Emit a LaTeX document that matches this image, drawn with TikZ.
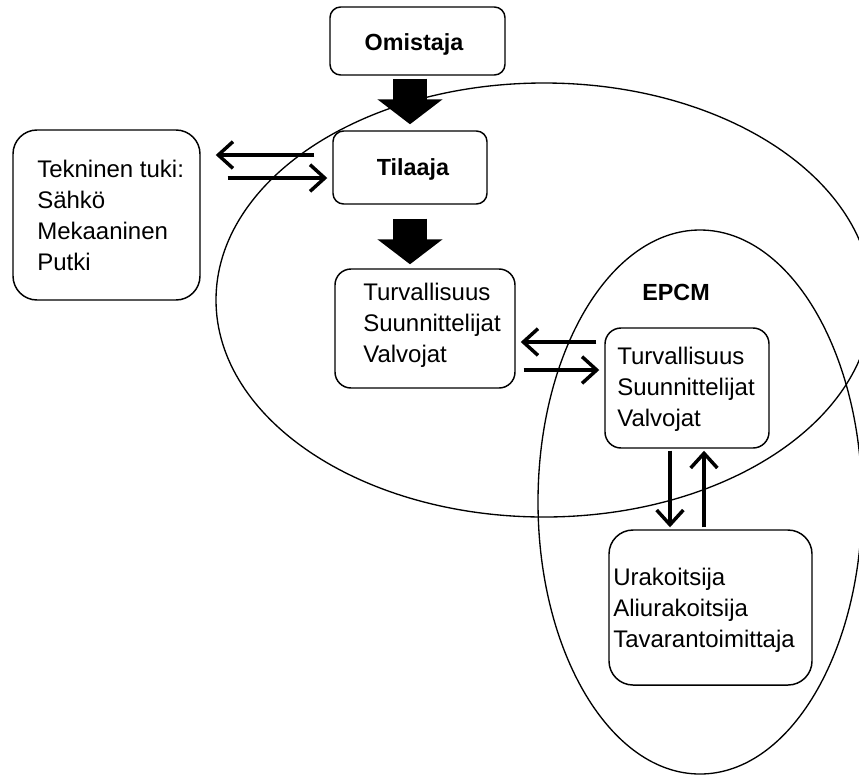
\documentclass[tikz,border=0pt]{standalone}
\usepackage{fontspec}
\setmainfont{Liberation Sans}
\usetikzlibrary{arrows.meta,fit,calc}
\begin{document}
\begin{tikzpicture}[x=0.75pt,y=-0.75pt,
  box/.style={draw, line width=1.1pt, rounded corners=#1, inner sep=0pt, fill=white},
  box/.default=8pt,
  ring/.style={draw, line width=1pt},
  txt/.style={font=\fontsize{18pt}{23.25pt}\selectfont, align=left, inner sep=0pt, anchor=north west},
  head/.style={font=\fontsize{17.5pt}{21pt}\selectfont\bfseries, inner sep=0pt, anchor=base},
  bigarrow/.style={line width=25.5pt, -{Triangle[length=18.75pt, width=48pt]}},
  thinarrow/.style={line width=2.6pt, -{Straight Barb[length=11pt, width=20pt]}}]
\useasboundingbox (0,0) rectangle (859,776);

% the two overlapping domains
\draw[ring] (544,300) ellipse [x radius=246pt, y radius=162.75pt];
\draw[ring] (700,502) ellipse [x radius=121.5pt, y radius=204pt];

% boxes
\node[box=8pt,  fit={(330,7)(505,75)}]    (omi) {};
\node[box=8pt,  fit={(333,131)(487,204)}] (tila) {};
\node[box=18pt, fit={(13,130)(200,300)}]  (tek) {};
\node[box=12pt, fit={(335,269)(515,388)}] (b1) {};
\node[box=12pt, fit={(605,328)(769,448)}] (b2) {};
\node[box=18pt, fit={(609,530)(812,685)}] (ura) {};

% texts
\node[head] (omiT)  at (414,50)  {Omistaja};
\node[head] (tilaT) at (413,175) {Tilaaja};
\node[head] (epcm)  at (676,300) {EPCM};
\node[txt] (tekT) at (37,160)  {Tekninen tuki:\\Sähkö\\Mekaaninen\\Putki};
\node[txt] (b1T)  at (363,283) {Turvallisuus\\Suunnittelijat\\Valvojat};
\node[txt] (b2T)  at (617,347) {Turvallisuus\\Suunnittelijat\\Valvojat};
\node[txt] (uraT) at (613,568) {Urakoitsija\\Aliurakoitsija\\Tavarantoimittaja};

% main chain
\draw[bigarrow, shorten <=2.25pt, shorten >=4.5pt] (omi.south -| tila.north) -- (tila.north);
\draw[bigarrow, shorten <=10.5pt, shorten >=3pt] (tila.south) -- (tila.south |- b1.north);

% technical support exchange
\draw[thinarrow] ($(tila.west)+(-18,-12.5)$) -- ($(tek.east |- tila.west)+(15,-12.5)$);
\draw[thinarrow] ($(tek.east |- tila.west)+(27,10.5)$) -- ($(tila.west)+(-5,10.5)$);

% exchange with EPCM
\draw[thinarrow] ($(b2.west |- b1.east)+(-8,13.5)$) -- ($(b1.east)+(5,13.5)$);
\draw[thinarrow] ($(b1.east)+(8,41.5)$) -- ($(b2.west |- b1.east)+(-5,41.5)$);

% EPCM and contractors
\draw[thinarrow] ($(b2.south)+(-17,2)$) -- ($(b2.south |- ura.north)+(-17,-2)$);
\draw[thinarrow] ($(b2.south |- ura.north)+(17,-2)$) -- ($(b2.south)+(17,2)$);
\end{tikzpicture}
\end{document}
